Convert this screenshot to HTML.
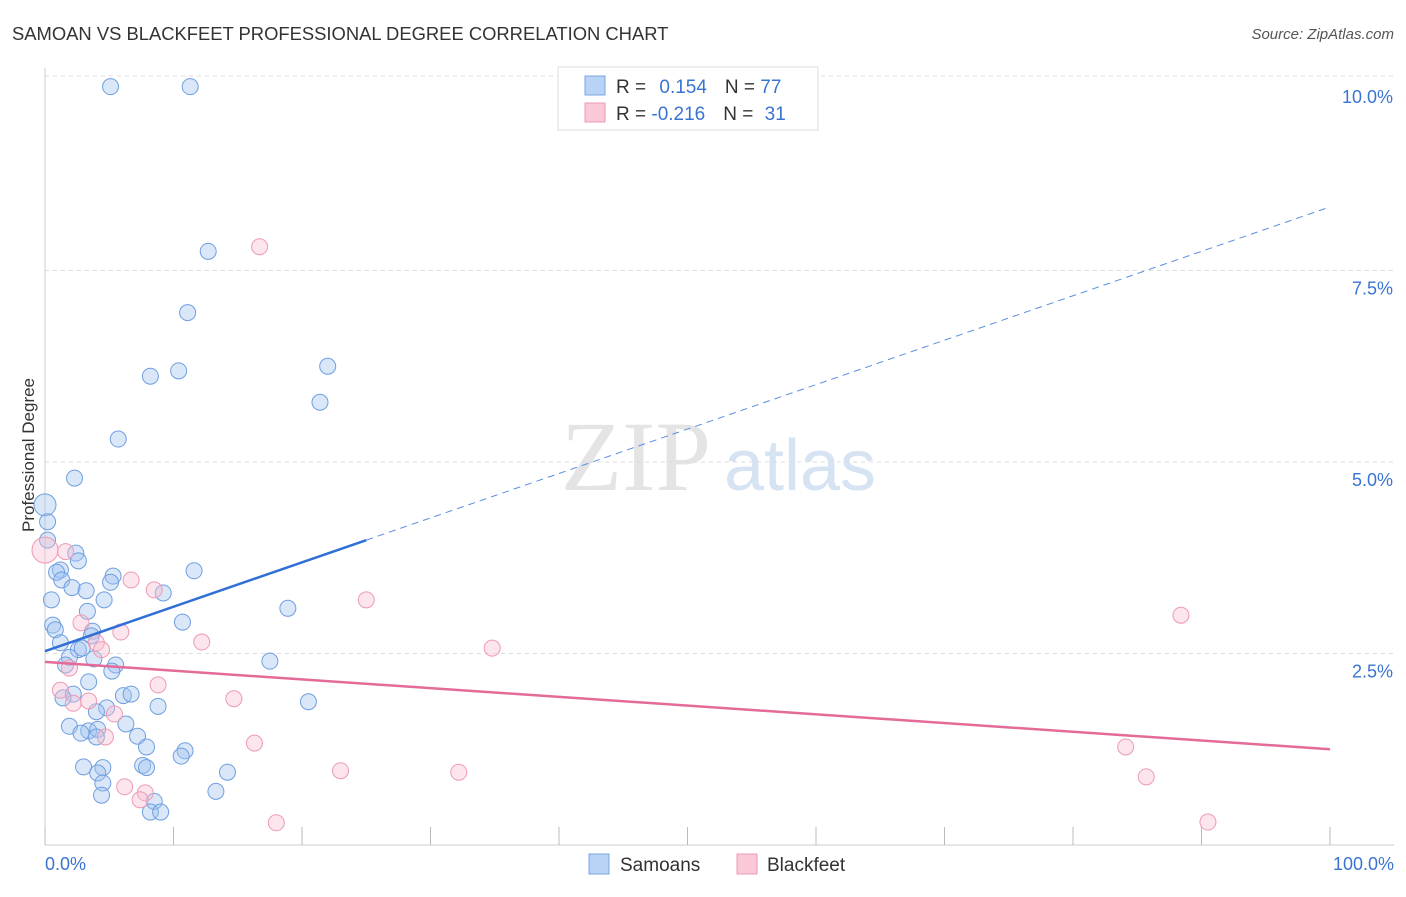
<!DOCTYPE html>
<html><head><meta charset="utf-8"><style>
body{margin:0;background:#fff;font-family:"Liberation Sans",sans-serif}
</style></head><body>
<svg id="c" width="1406" height="892" xmlns="http://www.w3.org/2000/svg" style="font-family:'Liberation Sans',sans-serif">
<text x="12" y="40" font-size="18.4" fill="#333">SAMOAN VS BLACKFEET PROFESSIONAL DEGREE CORRELATION CHART</text>
<text x="1394" y="39" font-size="15" fill="#555" text-anchor="end" font-style="italic">Source: ZipAtlas.com</text>
<text x="34" y="455" font-size="17" fill="#333" text-anchor="middle" transform="rotate(-90 34 455)">Professional Degree</text>
<text x="636" y="490" font-size="100" fill="#e4e4e4" font-family="Liberation Serif" text-anchor="middle">ZIP</text>
<text x="800" y="490" font-size="72" fill="#d6e3f3" text-anchor="middle">atlas</text>
<g id="grid"></g><g id="pts"></g><g id="trend"></g>
<g>
<rect x="558" y="67" width="260" height="63" fill="#fff" stroke="#ddd"/>
<rect x="585" y="76" width="20" height="19" fill="#b8d3f5" stroke="#7aa6e0"/>
<rect x="585" y="103" width="20" height="19" fill="#fac8d6" stroke="#eb9ab2"/>
<text x="616" y="93" font-size="19" fill="#333">R = <tspan fill="#3a74d2" dx="8">0.154</tspan><tspan dx="18" fill="#333">N = </tspan><tspan fill="#3a74d2">77</tspan></text>
<text x="616" y="120" font-size="19" fill="#333">R = <tspan fill="#3a74d2">-0.216</tspan><tspan dx="18" fill="#333">N = </tspan><tspan fill="#3a74d2" dx="6">31</tspan></text>
</g>
<g>
<rect x="589" y="854" width="20" height="20" fill="#b8d3f5" stroke="#7aa6e0"/>
<text x="620" y="871" font-size="19" fill="#333">Samoans</text>
<rect x="737" y="854" width="20" height="20" fill="#fac8d6" stroke="#eb9ab2"/>
<text x="767" y="871" font-size="19" fill="#333">Blackfeet</text>
</g>
</svg>
<script>
const xTicks=[0,10,20,30,40,50,60,70,80,90,100];
const yTicks=[2.5,5.0,7.5,10.0];
const samoanX=[5.1,11.3,12.7,11.1,8.2,10.4,22.0,21.4,5.7,2.3,0.0,0.2,0.2,2.4,2.6,1.2,0.9,1.3,5.3,11.6,5.1,2.1,3.2,9.2,0.5,4.6,3.3,18.9,10.7,0.6,0.8,3.7,3.6,1.2,2.6,2.9,3.8,1.9,1.6,5.5,5.2,17.5,3.4,2.2,1.4,6.1,6.7,8.8,4.8,4.0,20.5,1.9,6.3,3.4,2.8,4.1,4.0,7.2,7.9,10.9,10.6,7.6,7.9,3.0,4.5,4.1,14.2,4.5,4.4,13.3,8.5,8.2,9.0];
const samoanY=[9.9,9.9,7.75,6.95,6.12,6.19,6.25,5.78,5.30,4.79,4.44,4.22,3.98,3.81,3.71,3.59,3.56,3.46,3.51,3.58,3.43,3.36,3.32,3.29,3.20,3.20,3.05,3.09,2.91,2.87,2.81,2.79,2.73,2.64,2.55,2.57,2.43,2.45,2.35,2.35,2.27,2.40,2.13,1.97,1.92,1.95,1.97,1.81,1.79,1.74,1.87,1.55,1.58,1.49,1.46,1.51,1.41,1.42,1.28,1.23,1.16,1.04,1.01,1.02,1.01,0.94,0.95,0.81,0.65,0.70,0.57,0.43,0.43];
const blackfeetX=[16.7,0.0,6.7,8.5,25.0,88.4,5.9,2.8,12.2,34.8,4.0,4.4,1.9,8.8,1.2,2.2,3.4,14.7,5.4,4.7,16.3,84.1,23.0,32.2,85.7,6.2,7.8,7.4,18.0,90.5,1.6];
const blackfeetY=[7.81,3.85,3.46,3.33,3.20,3.00,2.78,2.90,2.65,2.57,2.64,2.55,2.31,2.09,2.02,1.85,1.88,1.91,1.71,1.41,1.33,1.28,0.97,0.95,0.89,0.76,0.68,0.59,0.29,0.30,3.83];
const samoanTrend=[2.53,8.33];
const blackfeetTrend=[2.39,1.25];
const NS="http://www.w3.org/2000/svg";
const X=v=>45+v*12.85, Y=v=>845-v*76.6;
function mk(t,a,p){const e=document.createElementNS(NS,t);for(const k in a)e.setAttribute(k,a[k]);p.appendChild(e);return e;}
const g=document.getElementById('grid');
yTicks.forEach(t=>{
 const l=mk('line',{x1:45,x2:1394,y1:Y(t)+(t==10?-3:0),y2:Y(t)+(t==10?-3:0),stroke:'#ddd','stroke-dasharray':'4,4'},g);
 
 
 const tx=mk('text',{x:1393,y:Y(t)+24,'font-size':18,fill:'#3a74d2','text-anchor':'end'},g);
 tx.textContent=t.toFixed(1)+'%';
 
 
});
mk('line',{x1:45,x2:45,y1:68,y2:845,stroke:'#ccc'},g);
mk('line',{x1:45,x2:1394,y1:845,y2:845,stroke:'#ccc'},g);
xTicks.forEach(t=>{
 const l=mk('line',{x1:X(t),x2:X(t),y1:827,y2:845,stroke:'#bbb'},g);
 
 
});
[[0,'0.0%',45,'start'],[100,'100.0%',1394,'end']].forEach(a=>{
 const tx=mk('text',{x:a[2],y:870,'font-size':18,fill:'#3a74d2','text-anchor':a[3]},g);
 tx.textContent=a[1];
 
 
});
const p=document.getElementById('pts');
samoanX.forEach((v,i)=>{
 const c=mk('circle',{cx:X(v),cy:Y(samoanY[i]),r:(i==10?11:8),fill:'rgba(160,196,240,0.4)',stroke:'#6f9fe0','stroke-width':1},p);
 
 
});
blackfeetX.forEach((v,i)=>{
 const c=mk('circle',{cx:X(v),cy:Y(blackfeetY[i]),r:(i==1?13:8),fill:'rgba(248,190,208,0.4)',stroke:'#ee9ab4','stroke-width':1},p);
 
 
});
const tr=document.getElementById('trend');
const sAt=x=>samoanTrend[0]+(samoanTrend[1]-samoanTrend[0])*x/100;
let l1=mk('line',{x1:X(0),y1:Y(sAt(0)),x2:X(25),y2:Y(sAt(25)),stroke:'#2f6fd6','stroke-width':2.5},tr);


let l2=mk('line',{x1:X(25),y1:Y(sAt(25)),x2:X(100),y2:Y(sAt(100)),stroke:'#5a8fe0','stroke-width':1,'stroke-dasharray':'7,5'},tr);


let l3=mk('line',{x1:X(0),y1:Y(blackfeetTrend[0]),x2:X(100),y2:Y(blackfeetTrend[1]),stroke:'#e46a98','stroke-width':2.5},tr);


</script>
</body></html>
